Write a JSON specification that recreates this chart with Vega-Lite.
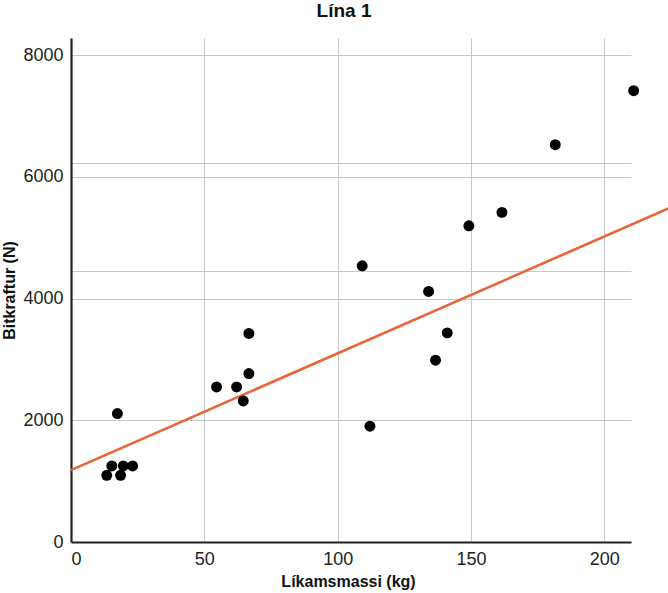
{
  "$schema": "https://vega.github.io/schema/vega-lite/v6.json",
  "autosize": "none",
  "padding": {"left": 71, "top": 38, "right": 37, "bottom": 51},
  "width": 560,
  "height": 504,
  "background": "white",
  "config": {
    "font": "Liberation Sans",
    "view": {"stroke": null},
    "axis": {
      "labelFontSize": 18,
      "labelColor": "#222",
      "labelPadding": 8,
      "ticks": false,
      "titleFontSize": 16,
      "titleFontWeight": "bold",
      "titleColor": "#111",
      "domainColor": "#222",
      "domainWidth": 2.2,
      "gridColor": "#c8c8c8",
      "gridWidth": 1
    },
    "title": {"fontSize": 19, "fontWeight": "bold", "color": "#111"}
  },
  "title": {
    "text": "Lína 1",
    "anchor": "middle",
    "dx": -7,
    "offset": 17
  },
  "datasets": {
    "points": [
      {"massi": 13.4, "kraftur": 1096},
      {"massi": 15.3, "kraftur": 1250},
      {"massi": 17.4, "kraftur": 2111},
      {"massi": 18.6, "kraftur": 1096},
      {"massi": 19.6, "kraftur": 1250},
      {"massi": 23.1, "kraftur": 1250},
      {"massi": 54.6, "kraftur": 2548},
      {"massi": 62.1, "kraftur": 2548},
      {"massi": 64.6, "kraftur": 2318},
      {"massi": 66.7, "kraftur": 2768},
      {"massi": 66.7, "kraftur": 3426},
      {"massi": 109.2, "kraftur": 4537},
      {"massi": 112.1, "kraftur": 1902},
      {"massi": 134.1, "kraftur": 4116},
      {"massi": 136.7, "kraftur": 2987},
      {"massi": 141.1, "kraftur": 3436},
      {"massi": 149.2, "kraftur": 5195},
      {"massi": 161.6, "kraftur": 5415},
      {"massi": 181.6, "kraftur": 6527},
      {"massi": 211.0, "kraftur": 7414}
    ],
    "lina": [
      {"massi": 0, "kraftur": 1180},
      {"massi": 224, "kraftur": 5480}
    ]
  },
  "encoding": {
    "x": {
      "field": "massi",
      "type": "quantitative",
      "scale": {"domain": [0, 210], "nice": false},
      "axis": {
        "title": "Líkamsmassi (kg)",
        "titleX": 277,
        "titlePadding": 5,
        "values": [0, 50, 100, 150, 200],
        "format": "d"
      }
    },
    "y": {
      "field": "kraftur",
      "type": "quantitative",
      "scale": {"domain": [0, 8280], "nice": false},
      "axis": {
        "title": "Bitkraftur (N)",
        "titlePadding": 5,
        "values": [0, 2000, 4000, 4450, 6000, 6220, 8000],
        "labelExpr": "datum.value % 2000 == 0 ? datum.label : ''",
        "format": "d"
      }
    }
  },
  "layer": [
    {
      "data": {"name": "lina"},
      "mark": {"type": "line", "color": "#e8643a", "strokeWidth": 2.6, "clip": false}
    },
    {
      "data": {"name": "points"},
      "mark": {"type": "circle", "color": "black", "opacity": 1, "size": 120}
    }
  ]
}
